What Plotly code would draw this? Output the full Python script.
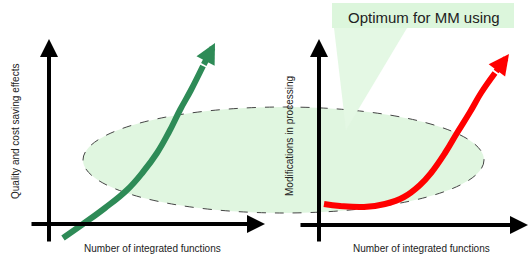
import plotly.graph_objects as go

# Canvas coordinates (x right, y up), chart is conceptual
W, H = 528, 254

# Green curve: quality and cost saving effects vs number of integrated functions (last point = arrow tip)
green_x = [63, 83, 105, 127, 143, 157, 169, 180, 191, 203, 215]
green_y = [16, 30, 46, 64, 82, 101, 122, 144, 164, 188, 211]

# Red curve: modifications in processing vs number of integrated functions (last point = arrow tip)
red_x = [324, 340, 364, 385, 404, 420, 431, 445, 457, 470, 481, 495, 509]
red_y = [50, 48, 47, 50, 57, 69, 81, 101, 121, 142, 161, 181, 200]

x_title = "Number of integrated functions"
left_y_title = "Quality and cost saving effects"
right_y_title = "Modifications in processing"
callout_text = "Optimum for MM using"

FONT = "Arial, Liberation Sans, sans-serif"

fig = go.Figure()

# Ellipse (optimum zone)
fig.add_shape(type="circle", xref="x", yref="y", x0=83, x1=484, y0=41, y1=147,
              fillcolor="#e0f6e0", line=dict(color="#444", width=1, dash="dash"),
              layer="below")
# Callout box and wedge
fig.add_shape(type="path", xref="x", yref="y",
              path="M 334 226 L 407 226 L 346 124 Z",
              fillcolor="#e4f8e4", line=dict(width=0), layer="below")
fig.add_shape(type="rect", xref="x", yref="y", x0=332, x1=514, y0=226, y1=251,
              fillcolor="#dcf6dc", line=dict(width=0), layer="below")

# Curves with arrowheads
for xs, ys, col in ((green_x, green_y, "#2e8b57"), (red_x, red_y, "#ff0000")):
    fig.add_trace(go.Scatter(x=xs[:-1], y=ys[:-1], mode="lines",
                             line=dict(color=col, width=6, shape="spline", smoothing=1.2),
                             hoverinfo="skip"))
    fig.add_annotation(x=xs[-1], y=ys[-1], ax=xs[-2], ay=ys[-2], xref="x", yref="y",
                       axref="x", ayref="y", showarrow=True, arrowhead=2,
                       arrowsize=0.68, arrowwidth=6, arrowcolor=col, text="")

def axis_arrow(x0, y0, x1, y1):
    fig.add_annotation(x=x1, y=y1, ax=x0, ay=y0, xref="x", yref="y",
                       axref="x", ayref="y", showarrow=True, arrowhead=2,
                       arrowsize=0.9, arrowwidth=4, arrowcolor="black", text="")

# Left panel axes
axis_arrow(49, 11, 49, 215)
axis_arrow(30, 30, 265, 30)
# Right panel axes
axis_arrow(319, 11, 319, 215)
axis_arrow(299, 29, 528, 29)

def label(x, y, text, size=10, angle=0):
    fig.add_annotation(x=x, y=y, xref="x", yref="y", text=text, showarrow=False,
                       textangle=angle, font=dict(family=FONT, size=size, color="#222"))

label(152, 6, x_title)
label(421, 6, x_title)
label(15, 122, left_y_title, angle=-90)
label(289, 118, right_y_title, angle=-90)
label(424, 237, callout_text, size=15)

fig.update_layout(width=W, height=H, margin=dict(l=0, r=0, t=0, b=0),
                  paper_bgcolor="white", plot_bgcolor="white", showlegend=False,
                  xaxis=dict(range=[0, W], visible=False, fixedrange=True),
                  yaxis=dict(range=[0, H], visible=False, fixedrange=True))

fig.write_html("out.html", config={"displayModeBar": False, "staticPlot": True},
               post_script="document.body.style.margin='0';document.body.style.overflow='hidden';")
